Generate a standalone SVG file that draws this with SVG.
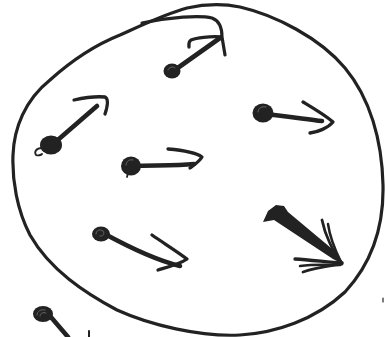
<svg xmlns="http://www.w3.org/2000/svg" width="385" height="337" viewBox="0 0 385 337">
<style>
.s{fill:none;stroke:#222;stroke-linecap:round;stroke-linejoin:round}
.o{stroke-width:3.2}
.a{stroke-width:4.6}
.h{stroke-width:3.3}
.d{fill:#222}
.hl{fill:none;stroke:#666;stroke-width:1;stroke-linecap:round}
</style>
<rect width="385" height="337" fill="#fff"/>
<g id="outline">
<path class="s o" d="M50,80 C70,62 95,45 120,35 C140,26 165,14 187,8 C205,4 225,4 240,7 C275,15 320,38 345,68 C370,98 382,140 383,185 C384,230 370,265 345,292 C315,320 275,333 240,335 C200,337 150,325 117,310 C85,293 50,270 30,235 C17,210 12,180 13,155 C14,128 25,100 50,80 Z"/>
<path class="s o" d="M142,23 C170,17 200,15 212,18 C220,21 222,29 222,37 L225,55"/>
</g>
<g id="arrow-top">
<path class="s a" d="M172,72 L220,38"/>
<path class="s h" d="M221,37 C210,36 196,38 191,40 C188,42 189,46 189,47"/>
<ellipse class="d" cx="172" cy="71" rx="8.5" ry="7.5"/>
<path class="hl" d="M168,70 C169,67 173,66 175,68"/>
</g>
<g id="arrow-left">
<path class="s a" d="M52,145 L97,106"/>
<path class="s h" d="M74,100 C83,98 95,96 105,97 C109,99 107,108 105,114"/>
<ellipse class="d" cx="51" cy="145" rx="11" ry="9.5"/>
<path class="s" stroke-width="1.8" d="M42,148 C36,148 34,152 36,155 C38,156 41,155 42,154"/>
</g>
<g id="arrow-center">
<path class="s a" d="M133,166 C150,165 175,166 194,164"/>
<path class="s h" d="M168,149 C180,150 195,152 202,157 C199,162 194,165 190,168"/>
<ellipse class="d" cx="131" cy="166" rx="10" ry="9.5"/>
<path class="hl" d="M126,165 C126,161 130,159 133,160"/>
<path class="s" stroke-width="1.8" d="M128,173 L127,177"/>
</g>
<g id="arrow-right">
<path class="s a" d="M265,114 C285,116 305,119 322,121"/>
<path class="s h" d="M303,102 C313,108 325,115 333,122 C328,128 318,132 310,133"/>
<ellipse class="d" cx="263" cy="113" rx="10.5" ry="9.5"/>
<path class="hl" d="M258,112 C258,108 262,106 266,107"/>
</g>
<g id="arrow-bottom">
<path class="s a" d="M103,233 C125,245 155,260 180,266"/>
<path class="s h" d="M152,235 C165,244 178,252 187,259 C180,264 168,267 158,270"/>
<ellipse class="d" cx="101" cy="234" rx="9" ry="7.5"/>
<path class="hl" d="M96,234 C96,230 100,229 103,231 C105,233 103,237 100,236"/>
</g>
<g id="arrow-big">
<path class="d" d="M263,222 L268,211 L276,205 L284,206 L288,212 L337,253 L343,264 L333,259 L274,220 Z"/>
<path class="s h" d="M295,259 C310,260 328,262 342,263"/>
<path class="s" stroke-width="2.8" d="M303,272 C315,268 330,266 342,264"/>
<path class="s" stroke-width="2.5" d="M300,266 C315,264 330,265 340,265"/>
<path class="s" stroke-width="2.8" d="M322,220 C325,235 333,252 342,263"/>
<path class="s" stroke-width="2.5" d="M328,224 C330,238 336,252 341,262"/>
</g>
<g id="arrow-outside">
<path class="s a" d="M50,316 L68,337"/>
<ellipse class="d" cx="43" cy="314" rx="10" ry="8"/>
<path class="hl" d="M37,315 C37,311 41,309 45,310 M40,316 C40,313 43,312 46,313"/>
<path class="s" stroke-width="2" d="M89,331 L89,337"/>
</g>
<g id="speck">
<path class="s" stroke-width="1.2" stroke="#888" d="M383,298 L383,302"/>
</g>
</svg>
